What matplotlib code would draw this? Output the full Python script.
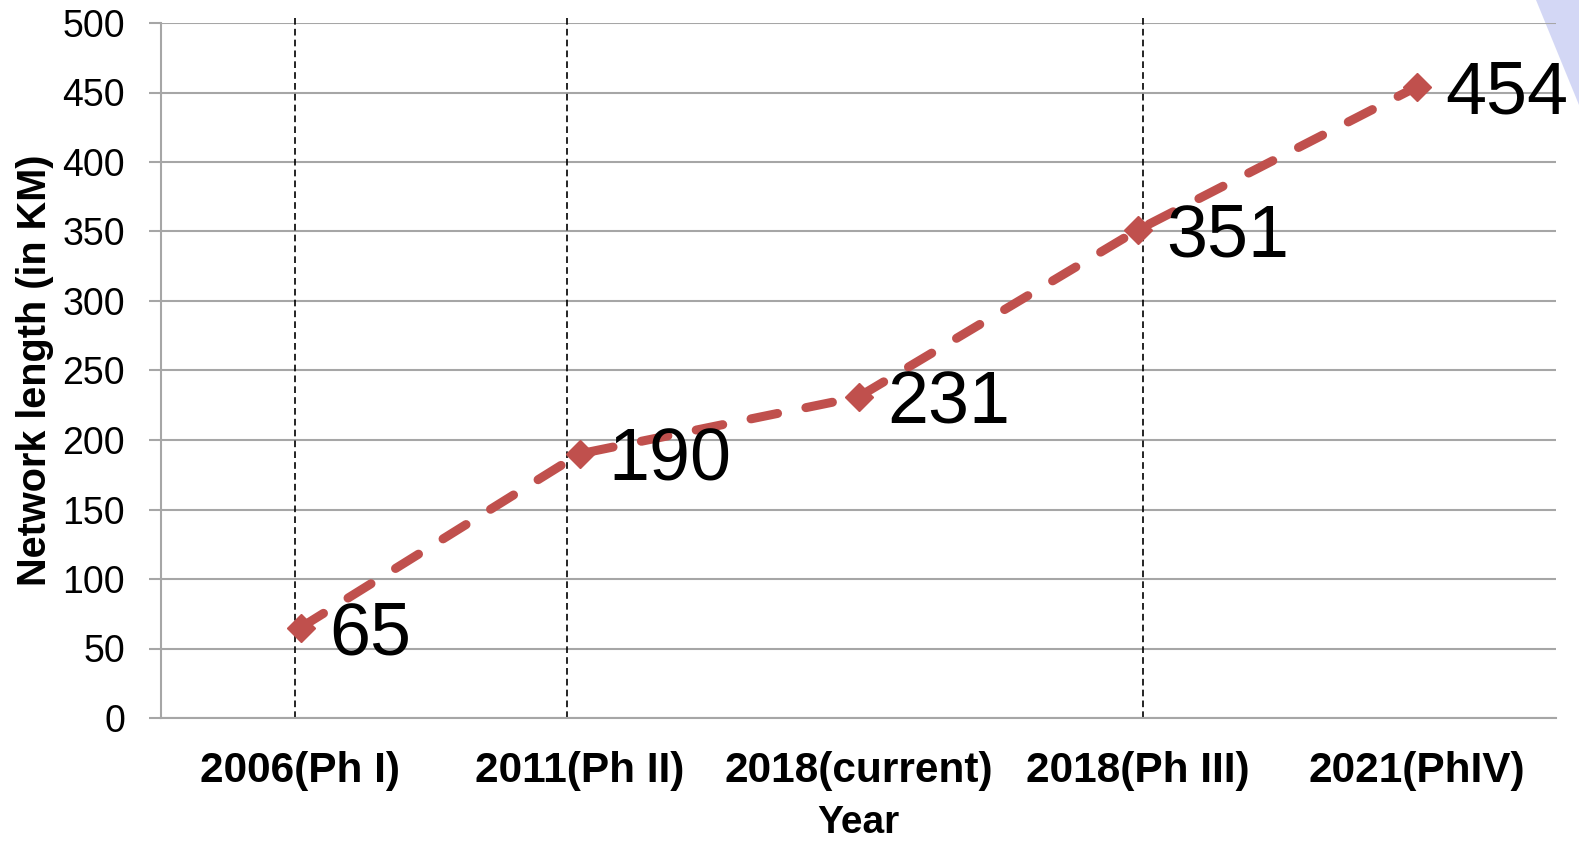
#!/usr/bin/env python3
"""Network length growth by phase, line chart with data labels."""
import matplotlib
matplotlib.use("Agg")
import matplotlib.pyplot as plt
from matplotlib.patches import Polygon

plt.rcParams['font.family'] = ['Liberation Sans', 'DejaVu Sans']

# data
phases = ['2006(Ph I)', '2011(Ph II)', '2018(current)', '2018(Ph III)', '2021(PhIV)']
network_km = [65, 190, 231, 351, 454]
y_ticks = [0, 50, 100, 150, 200, 250, 300, 350, 400, 450, 500]
# phases marked with a thin dotted guide (index, small shift off centre)
guide_idx = [0, 1, 3]
guide_shift = [-0.02, -0.045, 0.02]

RED = '#C0504D'
GRID = '#A6A6A6'

fig = plt.figure(figsize=(15.79, 8.42), dpi=100)

# faint blue corner of the slide background
fig.patches.append(Polygon([[1536 / 1579, 1.0], [1.0, 1.0], [1.0, 1 - 105 / 842]],
                           closed=True, transform=fig.transFigure,
                           facecolor='#C9CEF3', edgecolor='none', alpha=0.8,
                           zorder=-1))

ax = fig.add_axes([161 / 1579, 1 - 718 / 842, 1395 / 1579, 695 / 842])
ax.set_facecolor('none')

x = list(range(len(phases)))
ax.set_xlim(-0.5, len(phases) - 0.5)
ax.set_ylim(0, 500)

# horizontal gridlines
ax.set_yticks(y_ticks)
ax.yaxis.grid(True, color=GRID, linewidth=1.5)
ax.set_axisbelow(True)

for s in ['top', 'right']:
    ax.spines[s].set_visible(False)
for s in ['left', 'bottom']:
    ax.spines[s].set_color(GRID)
    ax.spines[s].set_linewidth(1.5)

ax.tick_params(axis='y', length=9, width=1.5, color=GRID, pad=17,
               labelsize=27)
ax.tick_params(axis='x', length=0, pad=24, labelsize=30.5)
ax.set_xticks(x)
ax.set_xticklabels(phases, fontweight='bold')

# dotted guides
for i, dx in zip(guide_idx, guide_shift):
    ax.plot([i + dx, i + dx], [0, 503.5], color='black', linewidth=1.2,
            linestyle=(0, (4, 2.5)), clip_on=False, zorder=2)

ax.plot(x, network_km, color=RED, linewidth=6.5, linestyle=(0, (3, 3.2)),
        dash_capstyle='round', marker='D', markersize=14,
        markeredgecolor=RED, markerfacecolor=RED, zorder=3)

for xi, v in zip(x, network_km):
    ax.annotate(str(v), (xi, v), xytext=(21, -5), textcoords='offset points',
                ha='left', va='center', fontsize=53, zorder=4)

ax.set_ylabel('Network length (in KM)', fontsize=28.5, fontweight='bold',
              labelpad=6)
ax.set_xlabel('Year', fontsize=28, fontweight='bold', labelpad=10)

fig.savefig('out.png', dpi=100)
